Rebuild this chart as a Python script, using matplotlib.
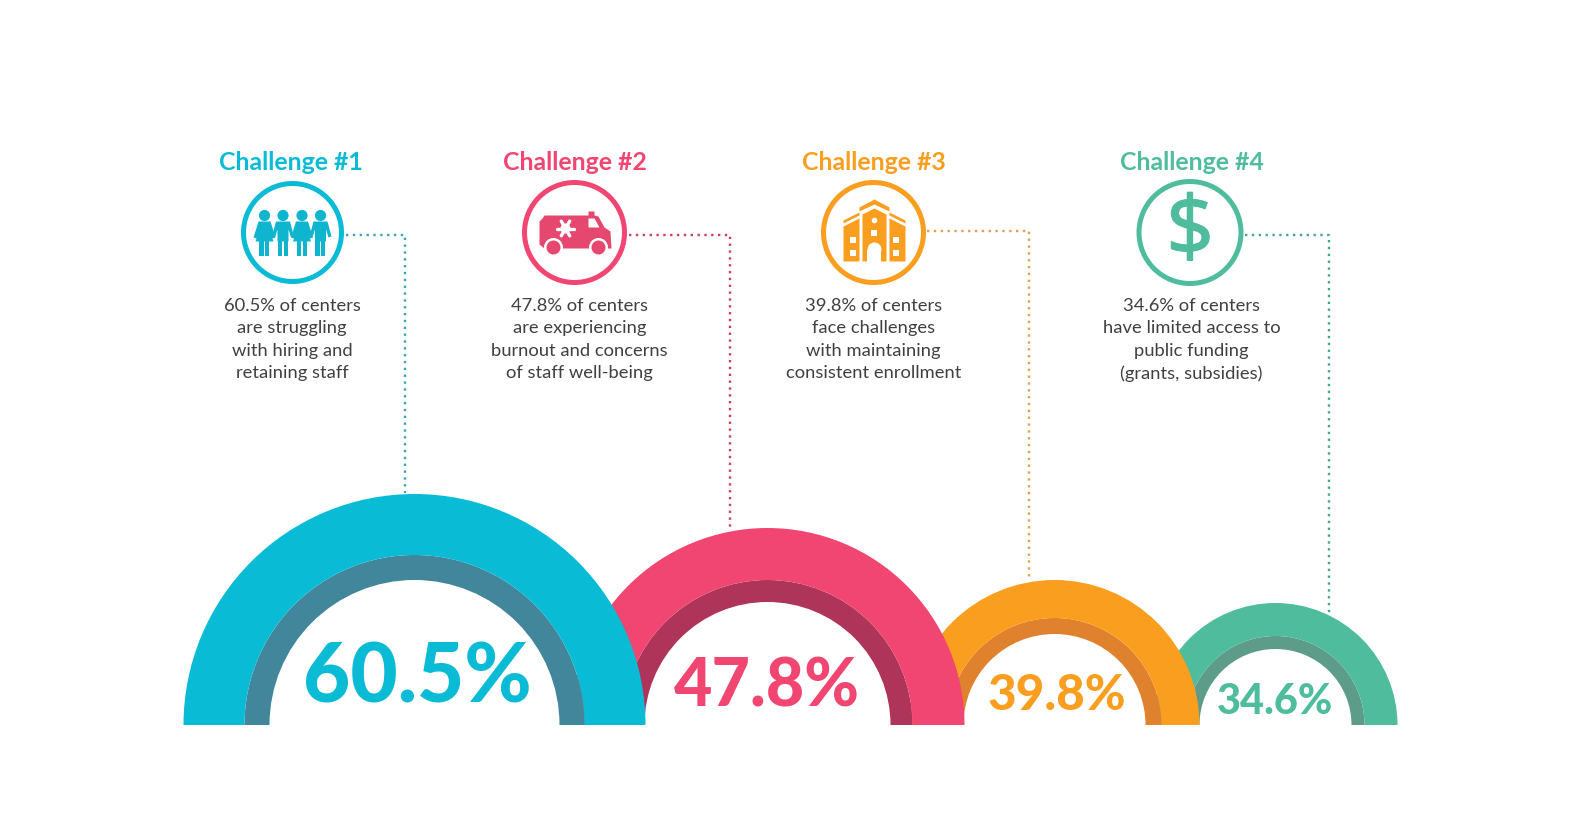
import matplotlib
matplotlib.use("Agg")
import matplotlib.pyplot as plt
import matplotlib.patheffects as pe
import numpy as np
from matplotlib.patches import Circle, Polygon, Rectangle, Wedge

plt.rcParams['font.family'] = ['Lato', 'DejaVu Sans']

# chart data
challenges = ["Challenge #1", "Challenge #2", "Challenge #3", "Challenge #4"]
percent_values = [60.5, 47.8, 39.8, 34.6]
descriptions = [
    "{}% of centers\nare struggling\nwith hiring and\nretaining staff",
    "{}% of centers\nare experiencing\nburnout and concerns\nof staff well-being",
    "{}% of centers\nface challenges\nwith maintaining\nconsistent enrollment",
    "{}% of centers\nhave limited access to\npublic funding\n(grants, subsidies)",
]

# colours
main_colors = ["#0ABBD5", "#F14672", "#F99E1F", "#4FBD9D"]
dark_colors = ["#41869A", "#AE3459", "#E0822D", "#5C9C88"]
link_colors = ["#3AA5AE", "#C9415F", "#E3A04F", "#45A68E"]
icon_colors = ["#0FB5CE", "#E5476F", "#F99E1F", "#4FBD9D"]
TEXT_COLOR = "#404040"

# layout in reference pixels, y going down
BASE_Y = 723.5
arch_x = [413, 766, 1053, 1274]
arch_outer = [231, 197, 145, 122]
arch_mid = [170, 145, 107, 89]
arch_inner = [145, 123, 91, 76]
pct_x = [416, 765, 1055, 1273.5]
pct_size = [58.8, 47.7, 35.6, 30]
pct_base = [701, 705, 708, 712]
title_x = [289.5, 573.5, 872, 1190]
text_x = [290.5, 578, 872, 1190]
icon_x = [291, 573, 872, 1188.5]
icon_y = [231, 231, 231, 231]
icon_r = [49, 50, 50, 51]
link_start = [345, 628, 926, 1244]
link_y = [233.5, 233.5, 229.5, 233.5]
link_x = [404, 729, 1028, 1328]
link_end = [491, 526, 578, 611]

fig = plt.figure(figsize=(15.71, 8.23), dpi=100, facecolor="white")
ax = fig.add_axes([0, 0, 1, 1])
ax.set_xlim(-1.5, 1569.5)
ax.set_ylim(821.5, -1.5)
ax.axis("off")


def draw_arch(i, z):
    cx = arch_x[i]
    # white disc first so the arch hides whatever sits behind its hole
    ax.add_patch(Wedge((cx, BASE_Y), arch_inner[i], 180, 360, fc="white", ec="none", zorder=z))
    ax.add_patch(Wedge((cx, BASE_Y), arch_mid[i], 180, 360, width=arch_mid[i] - arch_inner[i],
                       fc=dark_colors[i], ec="none", zorder=z))
    ax.add_patch(Wedge((cx, BASE_Y), arch_outer[i], 180, 360, width=arch_outer[i] - arch_mid[i],
                       fc=main_colors[i], ec="none", zorder=z))
    ax.text(pct_x[i], pct_base[i], f"{percent_values[i]}%", color=main_colors[i], fontsize=pct_size[i],
            fontweight="black", ha="center", va="baseline", zorder=z + 0.5)


def people_icon(cx, cy, color):
    offsets = [-28, -9.5, 9.5, 28]
    for n, dx in enumerate(offsets):
        x = cx + dx
        ax.add_patch(Circle((x, cy - 17), 5.6, fc=color, ec="none", zorder=20))
        if n % 2 == 0:
            # figure in a dress
            pts = [(-6, -11), (6, -11), (11, 5), (8, 6), (5, -3), (9, 9), (-9, 9), (-5, -3), (-8, 6), (-11, 5)]
        else:
            pts = [(-7, -11), (7, -11), (11, 4), (8, 5), (5.5, -3), (5.5, 9), (-5.5, 9), (-5.5, -3), (-8, 5), (-11, 4)]
        ax.add_patch(Polygon([(x + a, cy + b) for a, b in pts], fc=color, ec="none", zorder=20))
        for leg in (-5, 0.8):
            ax.add_patch(Rectangle((x + leg, cy + 8), 4.2, 15, fc=color, ec="none", zorder=20))


def ambulance_icon(cx, cy, color):
    body = [(-32, -14), (-30, -17), (14, -17), (14, -21), (20, -21), (20, -17), (24, -16),
            (30, -5), (36, -1), (37, 16), (-30, 16), (-35, 12), (-35, -11)]
    ax.add_patch(Polygon([(cx + a, cy + b) for a, b in body], fc=color, ec="none", zorder=20))
    ax.add_patch(Polygon([(cx + 14, cy - 14), (cx + 20, cy - 14), (cx + 25, cy - 5), (cx + 14, cy - 5)],
                         fc="white", ec="none", zorder=21))
    for wx in (-21, 24):
        ax.add_patch(Circle((cx + wx, cy + 15), 9.5, fc="white", ec="none", zorder=21))
        ax.add_patch(Circle((cx + wx, cy + 15), 7, fc=color, ec="none", zorder=22))
    ax.add_patch(Circle((cx - 9, cy - 4), 5, fc="white", ec="none", zorder=21))
    for ang in np.deg2rad([0, 60, 120]):
        dx, dy = 8.5 * np.cos(ang), 8.5 * np.sin(ang)
        ax.plot([cx - 9 - dx, cx - 9 + dx], [cy - 4 - dy, cy - 4 + dy], color="white", lw=2.4,
                solid_capstyle="round", zorder=21)


def building_icon(cx, cy, color):
    x0 = cx + 1
    wings = [[(-31, -6), (-15, -14), (-15, 29), (-31, 29)], [(31, -6), (15, -14), (15, 29), (31, 29)]]
    for w in wings:
        ax.add_patch(Polygon([(x0 + a, cy + b) for a, b in w], fc=color, ec="none", zorder=20))
    for side in (-1, 1):
        ax.add_patch(Polygon([(x0 + side * 31, cy - 9), (x0 + side * 15, cy - 17),
                              (x0 + side * 15, cy - 20), (x0 + side * 31, cy - 12)],
                             fc=color, ec="none", zorder=20))
    ax.add_patch(Polygon([(x0 - 12, cy + 29), (x0 - 12, cy - 18), (x0, cy - 24), (x0 + 12, cy - 18), (x0 + 12, cy + 29)],
                         fc=color, ec="none", zorder=20))
    ax.add_patch(Polygon([(x0 - 15, cy - 21), (x0 - 15, cy - 25), (x0, cy - 33), (x0 + 15, cy - 25), (x0 + 15, cy - 21), (x0, cy - 28)],
                         fc=color, ec="none", zorder=20))
    ax.add_patch(Circle((x0, cy - 12), 2.8, fc="white", ec="none", zorder=21))
    ax.add_patch(Rectangle((x0 - 3, cy - 3), 6, 6, fc="white", ec="none", zorder=21))
    for wx in (-24, 19):
        for wy in (4, 17):
            ax.add_patch(Rectangle((x0 + wx, cy + wy), 5.5, 6, fc="white", ec="none", zorder=21))
    # arched door
    ax.add_patch(Rectangle((x0 - 7, cy + 17), 14, 12, fc="white", ec="none", zorder=21))
    ax.add_patch(Circle((x0, cy + 17), 7, fc="white", ec="none", zorder=21))


def dollar_icon(cx, cy, color):
    ax.text(cx, cy + 1, "\\$", color=color, fontsize=60, family="Noto Sans", ha="center", va="center",
            zorder=20, path_effects=[pe.withStroke(linewidth=0.8, foreground=color)])


# later challenges sit behind the earlier ones
for i in [3, 2, 1, 0]:
    draw_arch(i, 5 + (3 - i) * 2)

icon_funcs = [people_icon, ambulance_icon, building_icon, dollar_icon]

for i in range(4):
    ax.text(title_x[i], 168.5, challenges[i], color=main_colors[i], fontsize=17.9, fontweight="bold",
            ha="center", va="baseline")
    ax.add_patch(Circle((icon_x[i], icon_y[i]), icon_r[i], fc="white", ec=main_colors[i], lw=3.6, zorder=15))
    icon_funcs[i](icon_x[i], icon_y[i], icon_colors[i])
    ax.text(text_x[i], 296.5, descriptions[i].format(percent_values[i]), color=TEXT_COLOR, fontsize=13.2,
            ha="center", va="top", linespacing=1.485, multialignment="center")
    ax.plot([link_start[i], link_x[i], link_x[i]], [link_y[i], link_y[i], link_end[i]],
            color=link_colors[i], lw=1.7, ls=(0, (1, 1.9)), zorder=2)

fig.savefig("out.png", dpi=100, facecolor="white")
plt.close(fig)
